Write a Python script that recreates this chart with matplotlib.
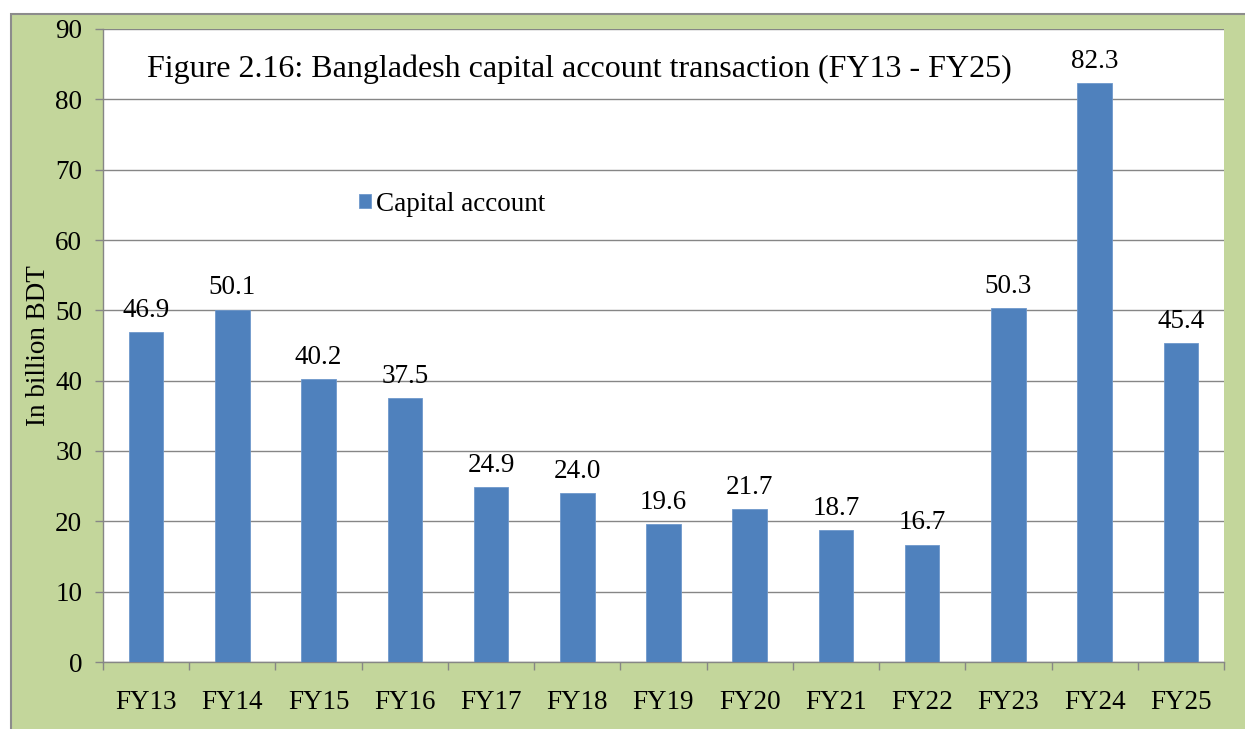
"""Bangladesh capital account transaction, FY13 - FY25, as a column chart."""

import matplotlib

matplotlib.use("Agg")

import matplotlib.pyplot as plt  # noqa: E402
from matplotlib.patches import Rectangle  # noqa: E402

years = ["FY13", "FY14", "FY15", "FY16", "FY17", "FY18", "FY19",
         "FY20", "FY21", "FY22", "FY23", "FY24", "FY25"]
capital_account = [46.9, 50.1, 40.2, 37.5, 24.9, 24.0, 19.6,
                   21.7, 18.7, 16.7, 50.3, 82.3, 45.4]
y_ticks = [0, 10, 20, 30, 40, 50, 60, 70, 80, 90]

BAR = "#4F81BD"
GREEN = "#C3D69B"
GRID = "#868686"
FS = 19.5

plt.rcParams["font.family"] = ["Liberation Serif", "DejaVu Serif"]

W, H = 1245, 729
fig = plt.figure(figsize=(W / 100, H / 100), dpi=100)
fig.patch.set_facecolor("white")

# green chart area with a grey frame on top and left (cropped at right/bottom)
fig.patches.append(Rectangle((11 / W, -0.1), 1.1, 1 - 14 / H + 0.1,
                             transform=fig.transFigure, facecolor=GREEN,
                             edgecolor="#8C8C8C", linewidth=1.5, zorder=-10))

ax = fig.add_axes([103 / W, 1 - 662 / H, (1224 - 103) / W, (662 - 29) / H])
ax.set_facecolor("white")

x = list(range(len(years)))
ax.bar(x, capital_account, width=0.4, color=BAR, edgecolor="#6E98CC",
       linewidth=0.6, zorder=3, label="Capital account")
for xi, v in zip(x, capital_account):
    ax.text(xi, v + 1.3, f"{v:.1f}", ha="center", va="bottom", fontsize=FS)

ax.set_xlim(-0.5, len(years) - 0.5)
ax.set_ylim(0, 90)
ax.set_yticks(y_ticks)
ax.set_xticks(x)
ax.set_xticklabels(years)
ax.set_xticks([i - 0.5 for i in range(len(years) + 1)], minor=True)
ax.tick_params(axis="x", which="major", length=0, pad=20, labelsize=FS)
ax.tick_params(axis="x", which="minor", length=6, color=GRID, width=1)
ax.tick_params(axis="y", length=6, color=GRID, width=1, pad=9, labelsize=FS)
ax.grid(axis="y", color=GRID, linewidth=1, zorder=0)

for side in ("top", "right"):
    ax.spines[side].set_visible(False)
for side in ("left", "bottom"):
    ax.spines[side].set_color(GRID)
    ax.spines[side].set_linewidth(1)

ax.set_ylabel("In billion BDT", fontsize=FS, labelpad=3)

ax.text(0.039, 0.96, "Figure 2.16: Bangladesh capital account transaction (FY13 - FY25)",
        transform=ax.transAxes, ha="left", va="top", fontsize=23)

ax.legend(loc="center left", bbox_to_anchor=(0.228, 0.7235), frameon=False,
          fontsize=FS, handlelength=0.45, handleheight=0.45,
          handletextpad=0.2, borderaxespad=0, borderpad=0)

fig.savefig("out.png", dpi=100)
